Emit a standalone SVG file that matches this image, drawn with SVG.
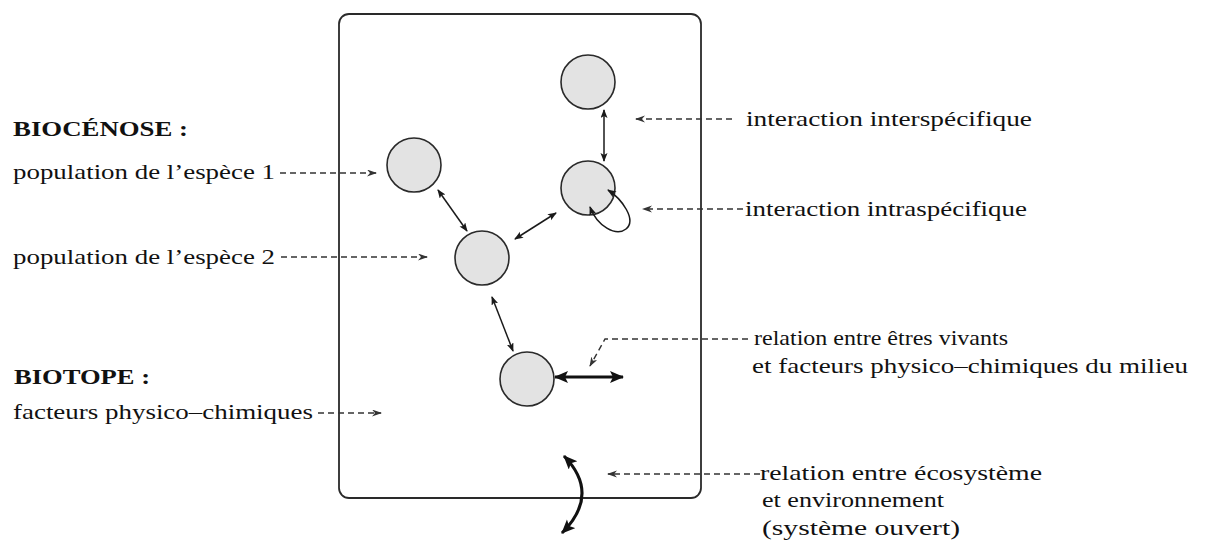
<svg xmlns="http://www.w3.org/2000/svg" width="1206" height="547" viewBox="0 0 1206 547">
<style>
text{font-family:"Liberation Serif","Times New Roman",serif;font-size:22px;fill:#111}
.b{font-weight:bold}
.node{fill:#e3e3e3;stroke:#2a2a2a;stroke-width:1.6}
.thin{fill:none;stroke:#1a1a1a;stroke-width:1.5;marker-start:url(#sm);marker-end:url(#sm)}
.thick{fill:none;stroke:#111;stroke-width:3;marker-start:url(#big);marker-end:url(#big)}
.dash{fill:none;stroke:#333;stroke-width:1.4;stroke-dasharray:6 4;marker-end:url(#dh)}
</style>
<defs>
<marker id="sm" markerUnits="userSpaceOnUse" markerWidth="10" markerHeight="8" refX="8" refY="3.5" orient="auto-start-reverse"><path d="M0,0 L9,3.5 L0,7 L2,3.5 z" fill="#1a1a1a"/></marker>
<marker id="big" markerUnits="userSpaceOnUse" markerWidth="16" markerHeight="14" refX="13" refY="6" orient="auto-start-reverse"><path d="M0,0 L14,6 L0,12 L3,6 z" fill="#111"/></marker>
<marker id="dh" markerUnits="userSpaceOnUse" markerWidth="11" markerHeight="8" refX="9" refY="3.5" orient="auto"><path d="M0,0 L10,3.5 L0,7 L3,3.5 z" fill="#333"/></marker>
</defs>
<g id="ecosystem"><rect x="339" y="14" width="362" height="484" rx="10" fill="none" stroke="#2a2a2a" stroke-width="1.8"/></g>
<g id="nodes">
<g id="pop-top"><circle class="node" cx="588" cy="82" r="27"/></g>
<g id="pop-1"><circle class="node" cx="414" cy="165" r="27"/></g>
<g id="pop-intra"><circle class="node" cx="588" cy="188" r="27"/></g>
<g id="pop-2"><circle class="node" cx="482" cy="258" r="27"/></g>
<g id="pop-bottom"><circle class="node" cx="527" cy="379" r="27"/></g>
</g>
<g id="connectors">
<line class="thin" x1="604" y1="110" x2="604" y2="161"/>
<line class="thin" x1="438" y1="190" x2="467" y2="231"/>
<line class="thin" x1="515" y1="239" x2="556" y2="213"/>
<line class="thin" x1="492" y1="297" x2="513" y2="351"/>
<path class="thin" d="M 608 190 C 622 199, 637 220, 626 229 C 616 237, 597 226, 590 207"/>
<line class="thick" x1="555" y1="377" x2="623" y2="377"/>
<path class="thick" d="M 564 456 Q 601 494 562 533"/>
<line class="dash" x1="280" y1="173" x2="376" y2="173"/>
<line class="dash" x1="281" y1="257" x2="427" y2="257"/>
<line class="dash" x1="318" y1="413" x2="381" y2="413"/>
<line class="dash" x1="732" y1="119" x2="636" y2="119"/>
<line class="dash" x1="743" y1="209" x2="643" y2="209"/>
<polyline class="dash" points="748,339 605,339 590,366"/>
<line class="dash" x1="760" y1="474" x2="608" y2="474"/>
</g>
<g id="labels">
<text class="b" x="13" y="136" textLength="175" lengthAdjust="spacingAndGlyphs">BIOCÉNOSE :</text>
<text x="13" y="179" textLength="262" lengthAdjust="spacingAndGlyphs">population de l’espèce 1</text>
<text x="13" y="264" textLength="262" lengthAdjust="spacingAndGlyphs">population de l’espèce 2</text>
<text class="b" x="14" y="384" textLength="136" lengthAdjust="spacingAndGlyphs">BIOTOPE :</text>
<text x="13" y="419" textLength="300" lengthAdjust="spacingAndGlyphs">facteurs physico–chimiques</text>
<text x="746" y="126" textLength="286" lengthAdjust="spacingAndGlyphs">interaction interspécifique</text>
<text x="745" y="216" textLength="282" lengthAdjust="spacingAndGlyphs">interaction intraspécifique</text>
<text x="754" y="345" textLength="254" lengthAdjust="spacingAndGlyphs">relation entre êtres vivants</text>
<text x="752" y="373" textLength="436" lengthAdjust="spacingAndGlyphs">et facteurs physico–chimiques du milieu</text>
<text x="760" y="480" textLength="282" lengthAdjust="spacingAndGlyphs">relation entre écosystème</text>
<text x="762" y="507" textLength="182" lengthAdjust="spacingAndGlyphs">et environnement</text>
<text x="762" y="535" textLength="198" lengthAdjust="spacingAndGlyphs">(système ouvert)</text>
</g>
</svg>
